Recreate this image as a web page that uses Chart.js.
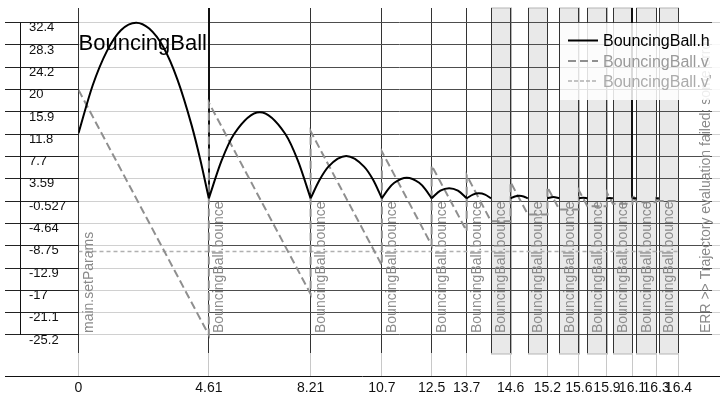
<!DOCTYPE html>
<html><head><meta charset="utf-8">
<script src="https://cdn.jsdelivr.net/npm/chart.js@4/dist/chart.umd.min.js"></script>
<style>html,body{margin:0;padding:0;background:#fff}canvas{display:block}</style>
</head><body>
<canvas id="c" width="727" height="398"></canvas>
<script>
// ---------- data ----------
const chartTitle = 'BouncingBall';
const errorMessage = 'ERR >> Trajectory evaluation failed: some error';
const eventTimes = [0, 4.61, 8.21, 10.73, 12.49, 13.73, 14.59, 15.20, 15.62, 15.92, 16.13, 16.27, 16.37];
const eventTickLabels = ['0','4.61','8.21','10.7','12.5','13.7','14.6','15.2','15.6','15.9','16.1','16.3','16.4'];
const eventNames = ['main.setParams','BouncingBall.bounce','BouncingBall.bounce','BouncingBall.bounce','BouncingBall.bounce','BouncingBall.bounce','BouncingBall.bounce','BouncingBall.bounce','BouncingBall.bounce','BouncingBall.bounce','BouncingBall.bounce','BouncingBall.bounce','BouncingBall.bounce'];
const bandedEventTimes = [14.59, 15.20, 15.62, 15.92, 16.13, 16.27, 16.37];
const yTickValues = [32.39, 28.28, 24.16, 20.05, 15.93, 11.82, 7.70, 3.59, -0.527, -4.64, -8.75, -12.87, -16.98, -21.10, -25.21];
const yTickLabels = ['32.4','28.3','24.2','20','15.9','11.8','7.7','3.59','-0.527','-4.64','-8.75','-12.9','-17','-21.1','-25.2'];
const hFlightTimes = [
  [0, 0.5, 1.0, 1.5, 2.04, 2.5, 3.0, 3.5, 4.0, 4.3, 4.61],
  [4.61, 5.06, 5.51, 6.41, 7.31, 7.76, 8.21],
  [8.21, 8.53, 8.84, 9.47, 10.10, 10.42, 10.73],
  [10.73, 10.95, 11.17, 11.61, 12.05, 12.27, 12.49],
  [12.49, 12.80, 13.11, 13.42, 13.73],
  [13.73, 13.95, 14.16, 14.38, 14.59],
  [14.59, 14.74, 14.90, 15.05, 15.20],
  [15.20, 15.41, 15.62],
  [15.62, 15.77, 15.92],
  [15.92, 16.02, 16.13],
  [16.13, 16.20, 16.27],
  [16.27, 16.32, 16.37]
];
const hFlightValues = [
  [12.0, 20.8, 27.1, 31.0, 32.39, 31.3, 27.9, 21.9, 13.5, 7.3, 0],
  [0, 6.95, 11.91, 15.88, 11.91, 6.95, 0],
  [0, 3.41, 5.84, 7.79, 5.84, 3.41, 0],
  [0, 1.67, 2.86, 3.81, 2.86, 1.67, 0],
  [0, 1.40, 1.87, 1.40, 0],
  [0, 0.69, 0.92, 0.69, 0],
  [0, 0.34, 0.45, 0.34, 0],
  [0, 0.22, 0],
  [0, 0.11, 0],
  [0, 0.05, 0],
  [0, 0.03, 0],
  [0, 0.01, 0]
];
const vFlightStart = [20.0, 17.65, 12.36, 8.65, 6.06, 4.24, 2.97, 2.08, 1.45, 1.02, 0.71, 0.50];
const vFlightEnd = [-25.21, -17.65, -12.36, -8.65, -6.06, -4.24, -2.97, -2.08, -1.45, -1.02, -0.71, -0.50];
const vDerFlight = [-9.81, -9.81, -9.81, -9.81, -9.81, -9.81, -9.81, -9.81, -9.81, -9.81, -9.81, -9.81];

// ---------- scale with event-iteration bands ----------
const PRE = 1e-7;     // "just before the event" instant
const BAND = 0.693;   // width of an event-iteration band, in axis units
class WarpedTimeScale extends Chart.LinearScale {
  getPixelForValue(value) {
    if (value === null || value === undefined || isNaN(value)) return NaN;
    let n = 0;
    for (const e of bandedEventTimes) if (e <= value) n++;
    return super.getPixelForValue(value + n * BAND);
  }
}
WarpedTimeScale.id = 'warpedTime';
WarpedTimeScale.defaults = {};
Chart.register(WarpedTimeScale);

// ---------- build datasets from arrays ----------
const hData = [];
hFlightTimes.forEach((ts, i) => {
  ts.forEach((t, j) => {
    const last = j === ts.length - 1;
    hData.push({x: last ? t - PRE : t, y: hFlightValues[i][j]});
  });
  hData.push({x: ts[ts.length - 1], y: null});
});
const vData = [], vDerData = [];
vFlightStart.forEach((v0, i) => {
  const t0 = eventTimes[i], t1 = eventTimes[i + 1];
  vData.push({x: t0, y: v0});
  vData.push({x: t1 - PRE, y: vFlightEnd[i]});
  vData.push({x: t1, y: vFlightEnd[i]});
  vDerData.push({x: t0, y: vDerFlight[i]});
  vDerData.push({x: t1, y: vDerFlight[i]});
});

const FONT = "'Liberation Sans', Arial, sans-serif";
Chart.defaults.font.family = FONT;

function yGridColor(ctx) {
  const chart = ctx.chart, xs = chart.scales.x;
  if (!xs) return '#4d4d4d';
  const W = chart.width;
  const g = chart.ctx.createLinearGradient(0, 0, W, 0);
  const b = Math.min(Math.max(xs.getPixelForValue(eventTimes[1]) / W, 0), 1);
  const d = Math.min(Math.max((chart.chartArea.right - 8) / W, b), 1);
  g.addColorStop(0, '#d0d0d0'); g.addColorStop(b, '#d0d0d0');
  g.addColorStop(b, '#4d4d4d'); g.addColorStop(d, '#4d4d4d');
  g.addColorStop(d, '#d2d2d2'); g.addColorStop(1, '#d2d2d2');
  return g;
}

const decor = {
  id: 'decor',
  beforeDraw(chart) {
    const c = chart.ctx, xs = chart.scales.x, a = chart.chartArea;
    c.save();
    bandedEventTimes.forEach(e => {
      const L = Math.round(xs.getPixelForValue(e - PRE)) + 0.5;
      const R = Math.round(xs.getPixelForValue(e)) + 0.5;
      c.fillStyle = '#e9e9e9';
      c.fillRect(L, a.top, R - L, a.bottom + 1 - a.top);
      c.strokeStyle = '#b5b5b5'; c.lineWidth = 1;
      c.strokeRect(L, a.top, R - L, a.bottom + 1 - a.top);
    });
    c.restore();
  },
  beforeDatasetsDraw(chart) {
    const c = chart.ctx, xs = chart.scales.x, ys = chart.scales.y, a = chart.chartArea;
    c.save();
    c.strokeStyle = '#333'; c.lineWidth = 1;
    bandedEventTimes.forEach(e => {
      const L = Math.round(xs.getPixelForValue(e - PRE)) + 0.5;
      c.beginPath(); c.moveTo(L, a.top); c.lineTo(L, a.bottom); c.stroke();
    });
    c.strokeStyle = '#111'; c.lineWidth = 2;
    [1, 10].forEach(i => {
      const x = Math.round(xs.getPixelForValue(eventTimes[i]));
      c.beginPath(); c.moveTo(x, a.top); c.lineTo(x, ys.getPixelForValue(0)); c.stroke();
    });
    c.restore();
  },
  afterDatasetsDraw(chart) {
    const c = chart.ctx, xs = chart.scales.x, ys = chart.scales.y, a = chart.chartArea;
    c.save();
    // axis lines
    c.strokeStyle = '#111'; c.lineWidth = 1;
    const ay = a.bottom + 23.5;
    c.beginPath(); c.moveTo(5, ay); c.lineTo(a.right, ay); c.stroke();
    c.beginPath(); c.moveTo(20.5, ys.getPixelForValue(yTickValues[0])); c.lineTo(20.5, ys.getPixelForValue(yTickValues[yTickValues.length - 1])); c.stroke();
    // title
    c.fillStyle = '#000'; c.font = '22px ' + FONT; c.textAlign = 'left'; c.textBaseline = 'alphabetic';
    c.fillText(chartTitle, a.left, 50);
    // event labels
    c.font = '14px ' + FONT; c.fillStyle = '#8a8a8a';
    eventTimes.forEach((e, i) => {
      const x = xs.getPixelForValue(e - PRE) + 14.5;
      c.save(); c.translate(x, 333); c.rotate(-Math.PI / 2); c.fillText(eventNames[i], 0, 0); c.restore();
    });
    c.save(); c.translate(a.right - 10, 333); c.rotate(-Math.PI / 2); c.fillText(errorMessage, 0, 0); c.restore();
    c.restore();
  },
  afterDraw(chart) {
    const c = chart.ctx;
    c.save();
    c.fillStyle = 'rgba(255,255,255,0.85)';
    c.fillRect(560, 23, 167, 77);
    const rows = [40.5, 61, 81];
    c.font = '16px ' + FONT; c.textAlign = 'left'; c.textBaseline = 'alphabetic';
    chart.data.datasets.forEach((ds, i) => {
      const y = rows[i];
      c.strokeStyle = ds.borderColor; c.lineWidth = ds.borderWidth;
      c.setLineDash(ds.legendDash || []);
      c.beginPath(); c.moveTo(568, y); c.lineTo(598, y); c.stroke();
      c.setLineDash([]);
      c.fillStyle = ds.legendColor;
      c.fillText(ds.label, 603, y + 5.5);
    });
    c.restore();
  }
};

new Chart(document.getElementById('c'), {
  type: 'line',
  data: {
    datasets: [
      {label: 'BouncingBall.h', data: hData, borderColor: '#000', borderWidth: 2, cubicInterpolationMode: 'monotone', legendColor: '#000'},
      {label: 'BouncingBall.v', data: vData, borderColor: '#8f8f8f', borderWidth: 2, borderDash: [8, 4], legendDash: [8, 4], tension: 0, legendColor: '#9a9a9a'},
      {label: "BouncingBall.v'", data: vDerData, borderColor: '#b0b0b0', borderWidth: 1.5, borderDash: [4, 3], legendDash: [4, 2], tension: 0, legendColor: '#ababab'}
    ]
  },
  options: {
    responsive: false, animation: false, events: [],
    layout: {padding: {left: 29, right: 7, top: 8, bottom: 0}},
    plugins: {legend: {display: false}, title: {display: false}, tooltip: {enabled: false}},
    elements: {point: {radius: 0}, line: {borderCapStyle: 'butt', fill: false}},
    scales: {
      x: {
        type: 'warpedTime', position: 'bottom', min: 0, max: 22.69,
        afterBuildTicks: s => { s.ticks = eventTimes.map(v => ({value: v})); },
        afterFit: s => { s.height = 45; s.paddingLeft = 0; s.paddingRight = 0; },
        ticks: {autoSkip: false, maxRotation: 0, minRotation: 0, padding: 4, color: '#111', font: {size: 14}, callback: (v, i) => eventTickLabels[i]},
        grid: {color: '#333', lineWidth: 1, tickColor: '#c8c8c8', tickLength: 23, drawTicks: true},
        border: {display: false}
      },
      y: {
        type: 'linear', position: 'left', min: -28.53, max: 35.10,
        afterBuildTicks: s => { s.ticks = yTickValues.map(v => ({value: v})); },
        afterFit: s => { s.width = 49.5; s.paddingTop = 0; s.paddingBottom = 0; },
        ticks: {autoSkip: false, crossAlign: 'far', labelOffset: 5, color: '#111', font: {size: 13}, callback: (v, i) => yTickLabels[i]},
        grid: {color: yGridColor, lineWidth: 1, tickColor: '#222', tickLength: 73.5, drawTicks: true},
        border: {display: false}
      }
    }
  },
  plugins: [decor]
});
</script>
</body></html>
